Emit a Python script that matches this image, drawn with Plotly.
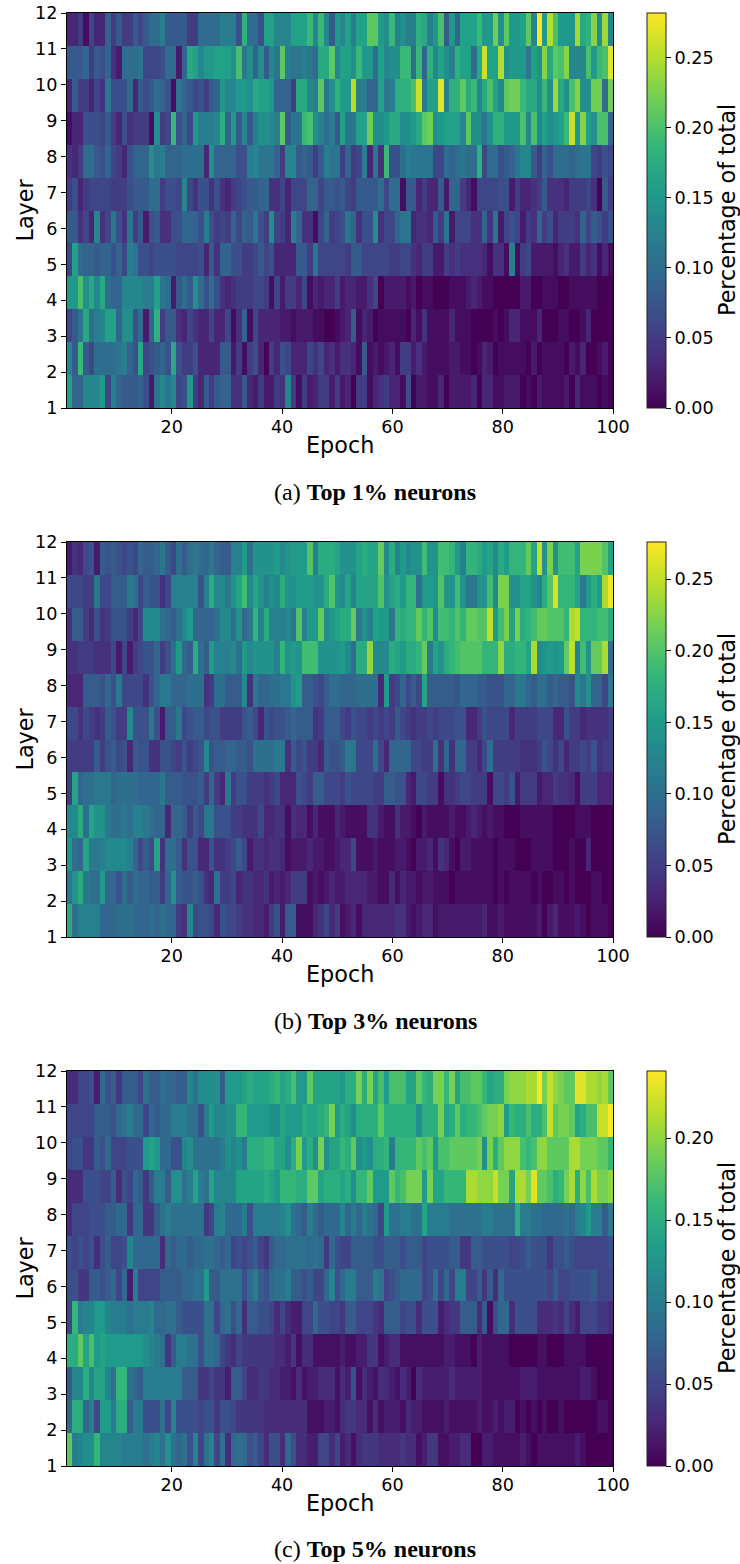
import plotly.graph_objects as go

# Values are in hundredths of a percent-of-total unit. Index runs epoch-wise.
a12=[3,3,5,1,6,3,3,9,5,8,5,5,8,6,8,10,10,12,8,8,8,8,5,5,10,10,10,10,12,12,12,7,18,10,10,7,16,16,13,13,13,16,16,16,19,13,19,13,8,15,
13,16,12,16,16,21,21,15,14,19,12,14,12,12,18,17,12,15,20,8,15,9,16,16,16,19,15,15,22,14,21,15,15,16,21,13,28,15,25,20,15,15,15,24,17,18,23,14,24,13]
a11=[8,8,8,9,5,8,7,9,4,2,10,10,10,11,6,6,6,7,10,10,2,9,17,16,13,15,15,16,16,16,14,20,11,14,9,14,8,13,11,21,12,11,11,12,11,10,17,17,21,13,
16,16,14,19,15,15,10,16,13,14,14,19,19,10,19,9,18,13,16,14,12,18,16,16,10,17,26,16,16,25,14,15,15,15,11,16,14,23,17,21,20,23,13,13,13,20,15,19,20,27]
a10=[3,8,5,5,3,6,4,11,7,7,7,10,3,8,7,8,10,9,7,1,11,9,8,6,7,5,8,9,15,13,13,15,15,14,17,16,16,15,9,9,9,5,17,17,13,12,21,11,14,18,
15,15,25,12,12,9,9,16,11,12,18,18,18,20,26,11,16,16,27,12,18,18,21,17,19,13,17,20,16,13,21,22,22,19,17,17,14,19,14,24,17,14,20,23,14,14,22,22,10,22]
a9=[1,3,3,7,7,7,6,8,5,3,7,4,5,5,5,1,14,5,6,19,7,9,6,15,12,12,12,13,18,9,15,8,13,8,12,14,14,13,12,21,8,11,11,19,20,14,12,10,12,8,
16,11,11,16,16,22,14,14,15,17,17,14,14,15,17,21,22,14,15,16,16,16,13,21,14,14,11,14,18,18,15,15,15,20,13,20,13,16,14,15,16,19,26,15,23,16,14,20,20,9]
a8=[4,3,5,10,10,8,7,9,6,5,3,7,9,9,9,14,11,12,9,9,9,10,10,10,10,3,14,9,9,9,9,7,7,12,13,11,11,11,9,5,13,13,8,9,8,5,8,12,11,11,
5,9,5,6,12,3,11,4,19,7,7,10,12,11,11,11,11,6,6,10,9,10,11,10,10,18,6,10,10,7,8,9,11,13,13,8,5,9,7,10,10,10,9,10,11,11,6,5,7,6]
a7=[5,7,3,5,6,6,6,6,5,5,5,7,8,8,8,10,10,5,7,7,6,13,6,4,7,7,4,7,4,3,5,6,7,8,8,9,9,4,4,6,3,6,6,6,9,9,6,8,8,7,
8,6,5,8,8,8,8,10,6,10,10,1,8,8,3,5,3,3,8,2,9,9,5,3,1,6,6,6,6,7,7,2,5,3,3,4,5,8,4,4,4,3,5,5,5,6,4,0,8,5]
a6=[8,8,4,6,3,13,4,6,11,7,4,11,5,8,2,7,8,4,4,7,7,9,9,9,7,12,7,5,6,5,9,6,9,8,11,7,5,14,6,5,3,12,9,4,4,1,6,9,5,6,
7,11,9,4,7,7,14,4,6,6,9,11,11,3,4,4,3,8,5,11,2,6,6,6,4,4,9,4,11,2,6,7,6,2,5,4,9,5,7,3,5,5,5,4,9,6,8,7,5,7]
a5=[6,16,10,9,9,8,9,9,7,9,6,12,11,7,7,6,7,7,7,7,6,6,6,6,7,3,8,4,9,9,7,7,5,5,6,8,6,7,3,3,3,3,8,8,5,11,6,6,6,6,
6,5,8,8,6,6,6,6,6,5,5,6,6,4,3,5,5,2,2,5,4,5,4,4,4,4,3,1,4,4,1,12,1,5,6,2,2,2,2,1,3,4,2,2,5,3,4,1,3,1]
a4=[15,15,20,14,17,13,17,10,9,9,13,13,13,13,12,12,16,11,10,2,8,10,8,14,10,7,10,7,4,3,4,5,5,5,6,6,5,1,6,2,5,5,3,6,1,3,2,3,3,5,
2,3,3,2,2,4,6,0,2,2,2,2,1,2,0,1,1,0,0,0,1,1,1,2,3,2,1,1,0,0,0,0,0,2,2,0,0,1,1,1,0,0,1,1,1,1,1,0,0,0]
a3=[6,8,11,17,10,12,13,16,16,9,14,14,7,10,2,9,18,5,8,8,4,3,6,4,3,3,6,3,3,6,1,4,9,1,6,3,3,3,3,2,2,1,2,2,2,1,1,0,0,1,
2,3,8,1,3,2,0,1,1,1,1,1,0,3,1,4,1,1,1,1,3,1,1,1,0,0,0,0,1,0,1,3,3,1,1,1,3,0,0,0,1,1,0,0,1,3,0,0,0,0]
a2=[13,8,19,8,6,10,10,10,10,11,12,9,7,17,6,7,8,9,7,17,7,5,5,7,3,3,3,3,8,8,2,5,1,5,7,3,0,5,3,7,6,3,3,3,6,4,6,3,4,2,
4,4,3,1,8,1,2,1,2,3,1,5,5,2,4,2,1,1,1,1,2,2,1,1,0,1,3,2,0,1,1,1,1,1,0,2,0,1,1,1,1,0,2,1,3,0,0,1,2,0]
a1=[16,9,9,13,13,13,15,6,12,9,8,8,8,9,7,2,11,13,11,13,6,7,15,5,3,8,5,8,9,9,4,4,8,3,2,5,2,2,5,4,13,5,1,5,2,3,5,5,2,5,
2,3,0,5,5,1,3,4,5,3,3,1,7,0,2,2,1,1,3,0,2,2,2,2,3,0,3,3,1,1,2,2,2,0,1,0,2,1,1,1,1,2,0,3,1,1,1,0,1,0]

b12=[2,4,3,6,7,2,8,7,8,7,6,7,6,9,8,8,9,11,8,6,10,8,10,11,10,9,11,9,8,8,12,12,15,10,14,14,14,14,15,13,14,15,15,15,20,12,17,17,17,16,
14,14,14,16,17,16,16,21,13,17,12,15,13,14,14,19,14,14,19,19,18,15,12,18,18,17,15,16,13,17,15,18,18,18,21,16,25,14,22,14,19,19,19,16,22,22,22,22,20,16]
b11=[6,6,6,5,5,11,6,6,8,8,8,11,10,6,8,7,7,4,6,12,12,12,12,12,7,12,17,13,13,11,14,16,19,13,16,14,12,14,13,17,14,14,15,15,15,14,14,17,20,14,
13,16,12,16,16,16,16,20,14,16,17,15,18,18,10,15,15,14,20,14,14,19,14,11,11,14,14,19,13,22,22,14,14,16,16,14,12,17,20,26,18,18,18,16,11,15,17,15,24,27]
b10=[4,8,8,5,3,7,4,5,7,7,7,5,3,6,13,13,13,10,9,8,10,13,15,9,9,9,9,10,13,13,10,14,9,11,18,12,17,12,12,12,13,11,20,12,15,15,21,13,15,16,
17,17,21,11,14,12,16,15,15,11,18,17,18,18,21,18,20,13,19,19,18,20,18,21,21,20,20,25,15,19,22,16,22,17,18,19,21,21,20,20,20,18,24,25,18,18,18,19,19,17]
b9=[4,4,5,5,5,4,4,4,6,2,6,2,5,6,7,7,9,5,7,10,15,9,8,17,10,8,15,12,12,12,13,10,15,13,14,14,14,14,12,18,14,15,14,19,19,19,14,14,14,14,
15,13,10,17,17,23,13,13,13,17,16,15,17,17,18,21,11,16,14,17,18,19,20,20,20,20,18,18,18,23,17,17,18,18,16,24,13,14,15,14,15,21,25,12,19,14,21,21,24,10]
b8=[3,3,3,8,8,8,7,9,7,11,6,6,6,6,4,7,9,11,11,9,9,9,10,10,10,4,5,10,10,8,8,8,13,4,11,9,9,10,10,11,11,14,15,8,8,7,6,8,10,10,
9,9,9,10,10,10,10,3,15,5,6,9,6,8,6,16,8,8,8,8,8,7,9,9,9,8,8,7,7,7,9,9,11,11,9,8,10,10,8,9,8,8,7,13,11,14,9,9,6,11]
b7=[6,6,4,6,5,4,5,8,7,5,5,13,7,7,7,11,7,2,8,8,11,6,7,8,8,6,7,7,5,5,5,5,7,8,6,3,7,6,7,7,8,9,8,8,8,4,5,8,8,8,
6,5,7,6,6,5,6,5,6,5,8,6,5,4,5,5,6,5,6,6,6,7,7,3,3,5,7,6,6,6,6,3,5,5,5,5,6,6,6,3,3,7,5,5,3,4,4,4,4,5]
b6=[5,5,5,5,5,8,5,7,8,6,7,3,8,7,7,4,4,7,7,6,5,7,5,6,7,13,7,8,8,9,9,8,8,7,10,10,10,10,11,11,4,8,6,7,5,5,3,8,7,7,
8,11,11,6,6,6,10,6,3,9,9,9,9,6,6,5,5,10,4,9,4,9,9,5,5,3,6,10,5,5,5,5,5,4,4,4,5,7,6,4,6,3,5,5,6,5,7,4,5,5]
b5=[5,16,9,10,10,11,11,11,9,10,10,10,10,9,9,9,9,11,8,8,8,7,7,7,8,5,9,5,3,11,5,7,7,5,5,5,4,5,6,3,3,3,7,6,5,8,8,6,6,6,
5,7,6,6,6,6,5,5,8,8,7,7,3,2,6,6,5,5,1,4,4,5,6,6,5,5,5,1,6,6,5,7,2,5,5,5,2,3,3,5,4,4,3,1,5,5,5,3,3,3]
b4=[13,13,17,10,16,14,14,11,10,10,11,10,12,12,11,10,9,9,3,9,9,8,5,8,6,11,11,7,7,7,5,5,4,4,4,6,3,3,4,4,1,4,3,3,1,3,1,1,1,3,
2,1,1,1,1,4,4,2,1,1,4,2,2,1,0,2,1,1,1,1,2,1,1,2,3,2,1,2,1,1,0,0,0,1,1,1,1,1,1,0,0,0,0,1,1,1,0,0,0,0]
b3=[15,10,9,16,11,11,12,13,13,13,13,12,9,6,8,6,16,4,10,10,8,4,7,7,3,3,7,4,4,5,6,8,6,2,4,4,3,4,4,3,1,2,2,2,3,2,2,1,1,2,
3,3,6,1,1,1,2,1,1,1,2,2,1,0,2,2,3,1,4,3,1,0,2,2,1,1,1,1,0,1,1,1,0,0,0,1,1,1,1,0,0,0,1,0,0,3,0,0,0,0]
b2=[11,14,17,11,10,10,15,9,9,7,10,8,10,9,9,8,8,5,9,14,8,7,7,8,7,4,3,10,5,5,6,3,4,4,3,3,4,2,3,2,3,5,5,5,1,2,1,2,3,2,
2,3,3,3,3,2,2,1,1,3,1,3,2,2,1,2,2,1,1,1,0,1,1,1,1,1,1,1,0,1,0,1,1,1,1,0,1,0,0,1,1,0,1,0,0,0,1,1,0,0]
b1=[17,10,12,12,12,12,9,9,9,10,10,10,9,9,9,10,9,10,9,9,5,4,13,6,7,7,6,3,7,6,6,5,4,4,3,3,2,5,7,2,8,8,1,1,1,3,4,6,3,5,
1,2,3,1,3,3,3,3,3,3,4,4,2,1,2,3,3,1,2,2,2,2,2,2,2,2,3,1,1,2,1,1,1,1,1,1,2,0,2,3,1,1,1,2,1,0,1,1,1,0]

c12=[3,3,5,5,6,2,8,6,7,4,7,7,7,5,9,7,7,9,8,8,7,7,11,9,12,12,12,12,7,13,13,13,14,15,14,14,14,15,16,14,15,17,13,13,18,14,14,14,14,14,
13,15,15,19,15,19,14,17,13,17,17,17,14,14,18,16,15,19,19,16,19,14,17,17,18,18,16,14,15,15,19,20,20,20,21,21,24,19,22,20,19,18,18,23,23,21,21,20,21,18]
c11=[5,5,5,5,5,7,7,7,6,8,9,10,8,8,5,8,7,8,8,10,10,10,9,9,6,10,13,11,11,12,12,16,16,13,13,13,13,12,12,14,13,13,13,15,14,14,15,16,19,13,
15,14,12,15,15,15,15,18,15,15,15,15,15,15,12,15,15,15,19,14,15,18,15,16,16,17,18,19,19,20,13,16,15,15,17,15,15,17,22,18,19,19,18,14,15,17,17,22,22,24]
c10=[5,6,6,4,4,7,6,8,5,5,5,6,6,6,13,14,13,8,8,6,6,11,12,9,9,9,9,9,10,12,11,12,10,15,15,15,16,16,14,14,12,15,19,13,15,12,19,12,14,14,
16,15,18,12,13,12,15,15,16,10,16,16,16,16,18,17,18,13,17,17,18,18,18,18,18,19,12,19,15,18,20,20,20,17,16,17,20,20,18,18,18,18,21,21,19,19,19,18,18,16]
c9=[3,3,3,6,6,6,5,5,7,3,6,5,8,7,4,7,10,10,7,12,12,9,10,14,10,9,14,11,11,11,11,14,14,14,14,14,15,14,13,16,16,16,15,15,18,18,14,15,15,15,
14,15,12,16,16,18,13,13,13,18,16,17,19,19,19,13,19,14,14,16,16,16,16,21,21,20,20,20,22,19,19,14,21,21,19,23,18,18,17,15,16,19,21,15,20,17,21,19,19,20]
c8=[3,5,5,5,6,6,6,7,7,8,8,4,8,8,4,4,7,9,10,9,9,9,9,9,9,4,5,10,11,8,8,8,10,6,10,10,10,10,10,11,12,9,8,7,10,8,7,8,8,8,
11,8,10,8,10,9,8,5,13,9,9,10,10,9,9,14,10,10,10,10,9,9,9,9,9,9,10,10,9,9,9,9,15,10,10,9,9,8,8,8,8,9,8,10,11,13,10,10,7,10]
c7=[6,5,6,5,6,3,6,7,5,5,6,11,8,8,8,8,8,3,8,7,8,8,7,8,8,9,9,8,7,8,5,6,5,6,7,5,4,7,8,8,9,9,9,9,8,9,8,4,8,6,
5,5,7,7,7,7,6,6,7,7,7,6,7,7,7,5,6,6,6,6,7,7,4,4,7,7,6,6,6,6,6,5,5,6,7,6,6,6,4,6,6,7,6,5,5,5,5,5,5,6]
c6=[6,6,4,4,7,7,6,7,8,5,8,2,10,5,5,5,5,7,7,7,7,8,8,9,9,13,7,7,9,9,9,9,6,8,10,7,6,8,9,9,10,7,7,6,7,5,5,8,11,6,
8,10,10,7,7,7,10,9,5,6,7,8,8,8,8,5,6,9,5,8,5,10,10,5,5,7,4,7,3,8,6,6,6,6,6,6,6,6,5,7,5,5,6,6,6,6,7,5,5,5]
c5=[5,16,10,11,11,13,13,11,10,10,10,9,10,10,10,11,8,8,9,9,7,6,6,6,6,9,9,5,8,9,6,8,3,7,7,6,6,5,3,5,3,2,2,5,5,8,6,6,5,5,
4,7,7,5,5,5,4,3,7,7,7,5,6,6,3,6,6,6,2,3,4,4,7,7,7,3,7,1,6,8,8,3,6,6,6,6,3,3,3,4,3,5,3,2,5,5,5,4,4,3]
c4=[15,15,18,14,17,13,14,13,13,13,13,13,13,13,12,11,10,9,4,7,10,10,9,9,6,9,9,8,5,4,3,5,4,4,4,4,4,4,3,3,2,4,1,3,3,1,1,1,1,1,
2,1,1,2,2,4,4,1,2,3,3,1,1,1,1,1,1,1,1,2,2,1,1,1,0,2,1,1,1,1,1,0,0,0,0,0,1,1,0,0,0,1,1,1,1,0,0,0,0,0]
c3=[7,11,11,15,11,14,14,11,9,16,16,9,8,7,10,10,10,10,10,10,10,7,7,7,4,4,5,4,4,2,7,7,5,3,3,4,4,3,3,2,2,1,3,1,2,2,3,3,3,1,
3,2,6,1,3,2,1,3,3,2,1,3,2,0,3,2,2,2,2,2,3,2,2,2,2,2,1,1,1,1,1,1,1,2,2,2,1,1,1,1,1,1,1,1,2,2,1,0,0,0]
c2=[8,15,15,8,10,5,13,13,10,15,15,7,10,10,6,6,6,9,5,11,6,6,6,6,5,6,6,4,6,6,5,4,4,4,4,4,3,3,3,3,3,3,3,3,1,1,1,2,2,1,
3,4,4,3,3,1,3,1,2,2,2,1,3,2,2,1,1,1,1,2,1,1,1,1,1,2,1,1,2,1,2,2,0,1,0,1,0,1,0,0,1,0,0,0,0,0,0,1,1,0]
c1=[18,10,11,12,12,16,11,11,11,11,10,10,10,10,9,10,11,9,12,9,8,9,6,11,5,9,11,5,9,3,8,9,8,6,7,5,3,6,6,3,8,6,3,3,2,2,5,5,3,5,
2,3,1,3,4,4,4,3,3,3,3,4,3,3,1,2,4,4,1,1,2,2,3,3,0,0,2,2,1,1,1,1,1,2,1,0,1,1,1,1,1,1,1,2,1,0,0,0,0,0]

top1 = [a1, a2, a3, a4, a5, a6, a7, a8, a9, a10, a11, a12]
top3 = [b1, b2, b3, b4, b5, b6, b7, b8, b9, b10, b11, b12]
top5 = [c1, c2, c3, c4, c5, c6, c7, c8, c9, c10, c11, c12]

zmaxes = [0.282, 0.276, 0.241]
cbar_ticks = [[0, 0.05, 0.10, 0.15, 0.20, 0.25], [0, 0.05, 0.10, 0.15, 0.20, 0.25], [0, 0.05, 0.10, 0.15, 0.20]]
captions = ["(a) <b>Top 1% neurons</b>", "(b) <b>Top 3% neurons</b>", "(c) <b>Top 5% neurons</b>"]
x_ticks = [20, 40, 60, 80, 100]
y_ticks = list(range(1, 13))
tops = [13, 542, 1071]
caption_y = [491.5, 1020.5, 1548.5]
epoch_y = [445, 974, 1502.5]

W, H = 740, 1564
ML, MR, MT, MB = 67, 127, 13, 98
PW, PTOT = W - ML - MR, H - MT - MB
PH = 395


def px(sx):
    return (sx - ML) / PW


def py(sy):
    return 1 - (sy - MT) / PTOT


centers_x = [1 + 0.99 * (i + 0.5) for i in range(100)]
centers_y = [1 + (11 / 12) * (j + 0.5) for j in range(12)]
axfont = dict(family="DejaVu Sans", size=17.6, color="black")
ttlfont = dict(family="DejaVu Sans", size=22.3, color="black")

fig = go.Figure()
layout = dict(width=W, height=H, margin=dict(l=ML, r=MR, t=MT, b=MB, autoexpand=False), paper_bgcolor="white",
              plot_bgcolor="white", showlegend=False, annotations=[], font=dict(family="DejaVu Sans", color="black"))
for p, (data, top) in enumerate(zip((top1, top3, top5), tops)):
    sfx = "" if p == 0 else str(p + 1)
    ytop, ybot = py(top), py(top + PH)
    fig.add_trace(go.Heatmap(
        z=[[v / 100 for v in r] for r in data], x=centers_x, y=centers_y, colorscale="Viridis",
        zmin=0, zmax=zmaxes[p], xaxis="x" + sfx, yaxis="y" + sfx, hoverinfo="skip",
        colorbar=dict(x=px(647), xanchor="left", xpad=0, y=ytop, yanchor="top", ypad=0,
                      len=PH / PTOT, lenmode="fraction", thickness=19, thicknessmode="pixels",
                      outlinecolor="#222222", outlinewidth=1, ticks="outside", ticklen=5, tickwidth=1,
                      tickcolor="black", tickmode="array", tickvals=cbar_ticks[p],
                      ticktext=[f"{t:.2f}" for t in cbar_ticks[p]], tickfont=axfont)))
    layout["xaxis" + sfx] = dict(domain=[0, 1], anchor="y" + sfx, range=[1, 100], tickmode="array",
                                 tickvals=x_ticks, ticks="outside", ticklen=5, tickwidth=1, tickcolor="black",
                                 showline=True, mirror=True, linecolor="black", linewidth=1, showgrid=False,
                                 zeroline=False, tickfont=axfont, ticklabelstandoff=-2)
    layout["yaxis" + sfx] = dict(domain=[ybot, ytop], anchor="x" + sfx, range=[1, 12],
                                 tickmode="array", tickvals=y_ticks, ticks="outside", ticklen=5, tickwidth=1,
                                 tickcolor="black", showline=True, mirror=True, linecolor="black", linewidth=1,
                                 showgrid=False, zeroline=False, tickfont=axfont)
    layout["annotations"].append(dict(text=captions[p], xref="paper", yref="paper", x=px(375), y=py(caption_y[p]),
                                      xanchor="center", yanchor="middle", showarrow=False,
                                      font=dict(family="Liberation Serif", size=24, color="black")))
    layout["annotations"].append(dict(text="Epoch", xref="paper", yref="paper", x=px(340), y=py(epoch_y[p]),
                                      xanchor="center", yanchor="middle", showarrow=False, font=ttlfont))
    layout["annotations"].append(dict(text="Layer", xref="paper", yref="paper", x=px(24), y=py(top + PH / 2),
                                      xanchor="center", yanchor="middle", showarrow=False, textangle=-90,
                                      font=ttlfont))
    layout["annotations"].append(dict(text="Percentage of total", xref="paper", yref="paper", x=px(726.5),
                                      y=py(top + PH / 2), xanchor="center", yanchor="middle", showarrow=False,
                                      textangle=-90, font=ttlfont))
fig.update_layout(**layout)
fig.write_html("out.html", config={"displayModeBar": False},
               post_script="document.body.style.margin='0';")
